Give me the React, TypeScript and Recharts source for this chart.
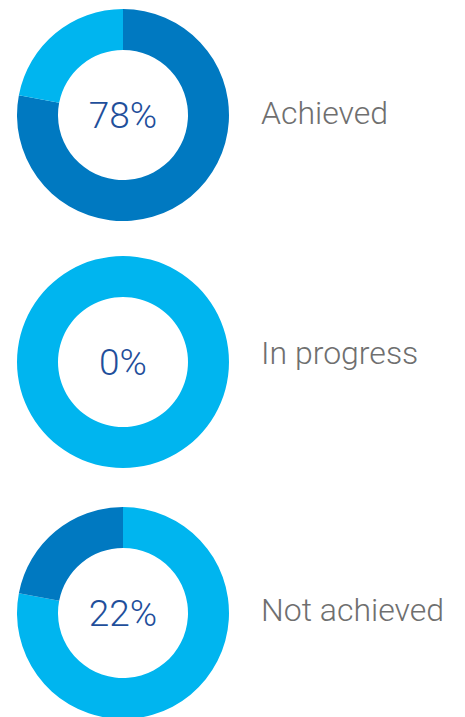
import { PieChart, Pie, Cell, Label } from "recharts";

const categories = ["Achieved", "In progress", "Not achieved"];
const percentLabels = ["78%", "0%", "22%"];
// slices go clockwise from 12 o'clock
const achievedSlices = [78, 22];
const progressSlices = [0, 100];
const notAchievedSlices = [78, 22];
const achievedColors = ["#0079c1", "#00b5ef"];
const progressColors = ["#0079c1", "#00b5ef"];
const notAchievedColors = ["#00b5ef", "#0079c1"];

const sliceSets = [achievedSlices, progressSlices, notAchievedSlices];
const colorSets = [achievedColors, progressColors, notAchievedColors];
const centersY = [114.5, 361.5, 613];
const nameTops = [95, 335, 592];

const FONT = "Roboto, 'Open Sans', sans-serif";
const BOX = 240;

export default function App() {
  return (
    <div style={{ position: "absolute", left: 0, top: 0, width: 465, height: 717, background: "#fff", overflow: "hidden" }}>
      {sliceSets.map((vals, i) => (
        <div key={categories[i]} style={{ position: "absolute", left: 3, top: centersY[i] - BOX / 2 }}>
          <PieChart width={BOX} height={BOX} margin={{ top: 0, right: 0, bottom: 0, left: 0 }}>
            <Pie
              data={vals.map((v, j) => ({ name: `${categories[i]}-${j}`, value: v }))}
              dataKey="value"
              cx="50%"
              cy="50%"
              innerRadius={65}
              outerRadius={106}
              startAngle={90}
              endAngle={-270}
              stroke="none"
              isAnimationActive={false}
            >
              {vals.map((_, j) => (
                <Cell key={j} fill={colorSets[i][j]} />
              ))}
              <Label
                value={percentLabels[i]}
                position="center"
                fill="#1f4f9b"
                fontSize={37}
                fontWeight={300}
                fontFamily={FONT}
              />
            </Pie>
          </PieChart>
        </div>
      ))}
      {categories.map((c, i) => (
        <div
          key={c}
          style={{
            position: "absolute",
            left: 261,
            top: nameTops[i],
            fontFamily: FONT,
            fontWeight: 300,
            fontSize: 32,
            color: "#6f6f6f",
            lineHeight: "36px",
            whiteSpace: "nowrap",
          }}
        >
          {c}
        </div>
      ))}
    </div>
  );
}
